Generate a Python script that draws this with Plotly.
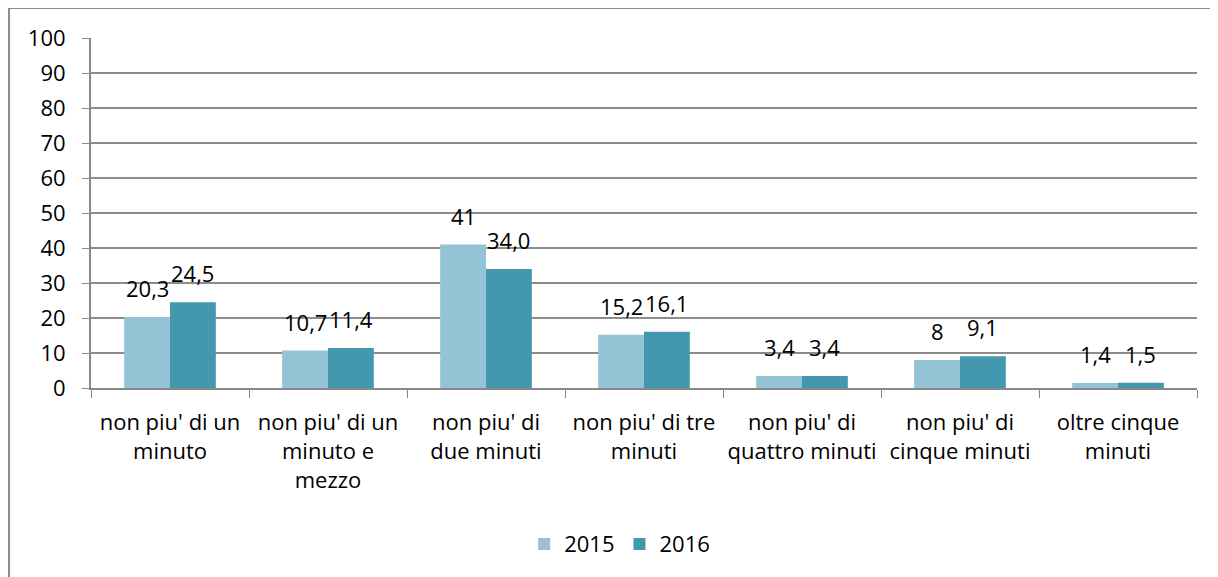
import plotly.graph_objects as go

categories = ["non piu' di un minuto", "non piu' di un minuto e mezzo", "non piu' di due minuti",
              "non piu' di tre minuti", "non piu' di quattro minuti", "non piu' di cinque minuti",
              "oltre cinque minuti"]
tick_labels = ["non piu' di un<br>minuto", "non piu' di un<br>minuto e<br>mezzo", "non piu' di<br>due minuti",
               "non piu' di tre<br>minuti", "non piu' di<br>quattro minuti", "non piu' di<br>cinque minuti",
               "oltre cinque<br>minuti"]
values_2015 = [20.3, 10.7, 41, 15.2, 3.4, 8, 1.4]
values_2016 = [24.5, 11.4, 34.0, 16.1, 3.4, 9.1, 1.5]
labels_2015 = ["20,3", "10,7", "41", "15,2", "3,4", "8", "1,4"]
labels_2016 = ["24,5", "11,4", "34,0", "16,1", "3,4", "9,1", "1,5"]
y_ticks = [0, 10, 20, 30, 40, 50, 60, 70, 80, 90, 100]

FONT = "Open Sans"
FS = 22
W, H = 1210, 569
ML, MR, MT, MB = 83, 21, 30, 189
BARGAP = 0.42

fig = go.Figure()
fig.add_trace(go.Bar(name="2015", x=categories, y=values_2015, marker_color="#93C3D4",
                     marker_line_width=0))
fig.add_trace(go.Bar(name="2016", x=categories, y=values_2016, marker_color="#4398B0",
                     marker_line_width=0))

# data labels above each bar
cat_px = (W - ML - MR) / len(categories)
half_bar = cat_px * (1 - BARGAP) / 4
for labels, vals, sign in [(labels_2015, values_2015, -1), (labels_2016, values_2016, 1)]:
    for c, v, t in zip(categories, vals, labels):
        fig.add_annotation(x=c, y=v, text=t, showarrow=False, xanchor="center", yanchor="bottom",
                           xshift=sign * half_bar, yshift=12,
                           font=dict(size=FS, family=FONT, color="#000000"))

fig.update_layout(
    width=W, height=H,
    margin=dict(l=ML, r=MR, t=MT, b=MB, autoexpand=False),
    paper_bgcolor="white", plot_bgcolor="white",
    barmode="group", bargap=BARGAP, bargroupgap=0,
    font=dict(family=FONT, size=FS, color="#000000"),
    showlegend=True,
    legend=dict(orientation="h", x=0.478, xanchor="center", y=-0.446, yanchor="middle",
                font=dict(size=FS, family=FONT), itemwidth=30, traceorder="normal"),
)
fig.update_xaxes(tickvals=categories, ticktext=tick_labels, ticks="outside", tickson="boundaries",
                 ticklen=8, tickcolor="#888888", showline=True, linecolor="#888888", linewidth=2,
                 tickfont=dict(size=FS, family=FONT), showgrid=False, ticklabelstandoff=14,
                 tickangle=0, automargin=False)
fig.update_yaxes(range=[0, 100], tickvals=y_ticks, ticks="outside", ticklen=7, tickcolor="#888888",
                 showline=True, linecolor="#888888", linewidth=2, showgrid=True,
                 gridcolor="#8c8c8c", gridwidth=2, tickfont=dict(size=FS, family=FONT),
                 zeroline=False, ticklabelstandoff=12, automargin=False)
fig.add_shape(type="rect", xref="paper", yref="paper", x0=-0.0741, y0=-0.62, x1=1.05, y1=1.0857,
              line=dict(color="#8c8c8c", width=2), fillcolor="rgba(0,0,0,0)", layer="below")
fig.write_html("out.html")
